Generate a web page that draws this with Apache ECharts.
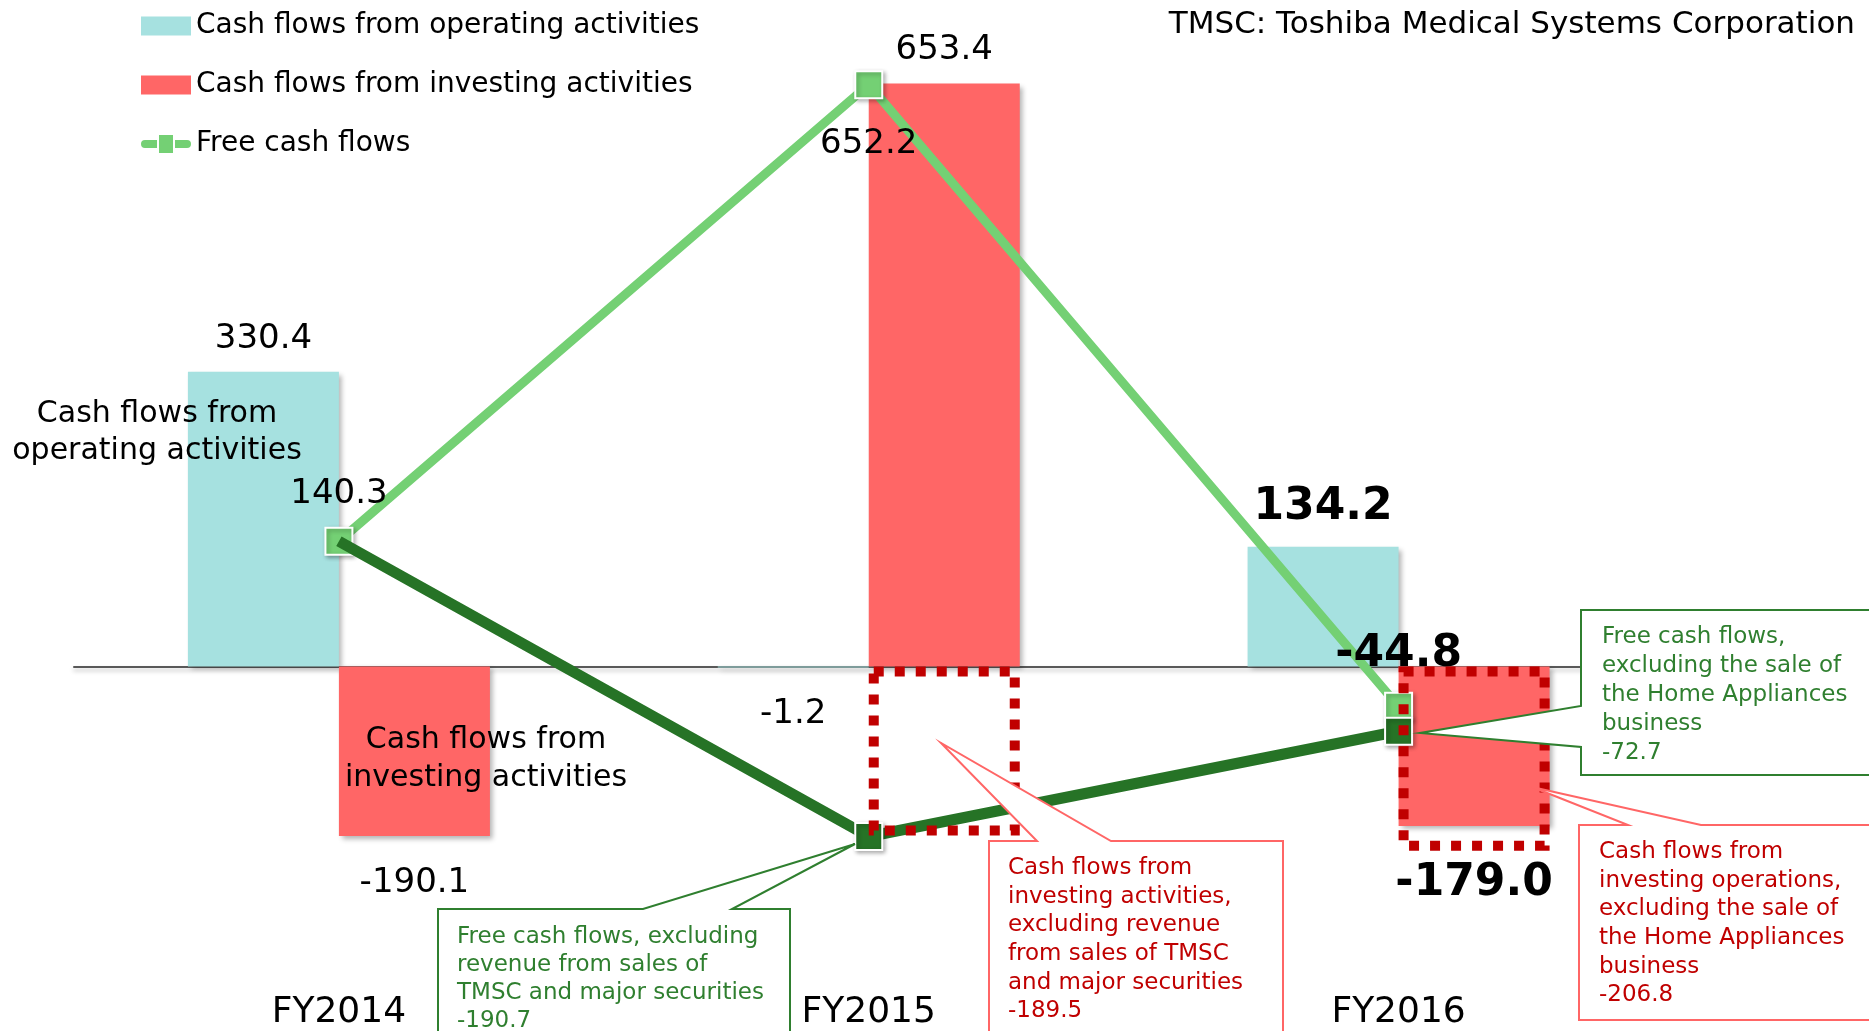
<!DOCTYPE html>
<html>
<head>
<meta charset="utf-8" />
<title>Cash flows</title>
<script src="https://cdn.jsdelivr.net/npm/echarts@6.0.0/dist/echarts.min.js"></script>
<style>
  html, body { margin: 0; padding: 0; background: #fff; }
  #chart { width: 1869px; height: 1031px; }
</style>
</head>
<body>
<div id="chart"></div>
<script>
  // values (billion yen)
  const years = ['FY2014', 'FY2015', 'FY2016'];
  const operating = [330.4, -1.2, 134.2];
  const investing = [-190.1, 653.4, -179.0];
  const freeCash = [140.3, 652.2, -44.8];
  const freeCashExcl = [140.3, -190.7, -72.7];
  const investingExcl = [null, -189.5, -206.8];

  const font = '"DejaVu Sans", Verdana, sans-serif';
  const cyan = '#A6E1E0', red = '#FF6666', lightGreen = '#74D074',
        darkGreen = '#267326', darkRed = '#C00000', noteGreen = '#2F7F2F';

  function lbl(pos, dist, bold) {
    return {
      show: true, position: pos, distance: dist,
      fontFamily: font, fontSize: bold ? 44 : 34,
      fontWeight: bold ? 'bold' : 'normal', color: '#000',
      formatter: p => Number(p.value).toFixed(1)
    };
  }

  const barShadow = {
    shadowBlur: 5, shadowOffsetX: 3, shadowOffsetY: 3,
    shadowColor: 'rgba(0,0,0,0.3)'
  };

  const opLabels = [lbl('top', 16), lbl('bottom', 30), lbl('top', 17, true)];
  const invLabels = [lbl('bottom', 30), lbl('top', 16), lbl('bottom', 35, true)];
  const fcfLabels = [lbl('top', 16), lbl('bottom', 28), lbl('top', 15, true)];

  // legend icon: thick line with round ends and a square marker
  const lineIcon = 'path://M4,5 H16 V13 H4 A4,4 0 0 1 4,5 Z M18,0 H32 V18 H18 Z M34,5 H46 A4,4 0 0 1 46,13 H34 Z';

  function note(points, color, textColor, tx, ty, lh, text) {
    return [
      {
        type: 'polygon', z: 50,
        shape: { points: points },
        style: { fill: '#fff', stroke: color, lineWidth: 2 }
      },
      {
        type: 'text', z: 51, x: tx, y: ty,
        style: {
          text: text, fill: textColor, fontFamily: font, fontSize: 23,
          lineHeight: lh, align: 'left', verticalAlign: 'top'
        }
      }
    ];
  }

  const chart = echarts.init(document.getElementById('chart'));

  chart.setOption({
    animation: false,
    backgroundColor: '#fff',
    title: {
      text: 'TMSC: Toshiba Medical Systems Corporation',
      right: 9, top: 4,
      textStyle: { fontFamily: font, fontSize: 31, fontWeight: 'normal', color: '#000' }
    },
    legend: {
      orient: 'vertical', left: 136, top: 4,
      itemWidth: 50, itemHeight: 19, itemGap: 25,
      textStyle: { fontFamily: font, fontSize: 28, color: '#000', lineHeight: 34 },
      data: [
        { name: 'Cash flows from operating activities', icon: 'rect' },
        { name: 'Cash flows from investing activities', icon: 'rect' },
        { name: 'Free cash flows', icon: lineIcon, itemStyle: { borderWidth: 0, shadowBlur: 0 } }
      ]
    },
    grid: { left: 74, right: 205.5, top: 42, bottom: 96 },
    xAxis: [
      {
        type: 'category', data: years,
        axisLine: { show: true, onZero: true, lineStyle: { color: '#595959', width: 2,
          shadowBlur: 4, shadowOffsetY: 3, shadowColor: 'rgba(0,0,0,0.25)' } },
        axisTick: { show: false }, axisLabel: { show: false }
      },
      {
        type: 'category', data: years, position: 'bottom',
        axisLine: { show: false, onZero: false }, axisTick: { show: false },
        axisLabel: { margin: 61, fontFamily: font, fontSize: 36, color: '#000' }
      }
    ],
    yAxis: {
      type: 'value', min: -300, max: 700, show: false,
      splitLine: { show: false }
    },
    series: [
      {
        name: 'Cash flows from operating activities', type: 'bar',
        barWidth: 151, barGap: '0%',
        itemStyle: Object.assign({ color: cyan }, barShadow),
        data: operating.map((v, i) => ({ value: v, label: opLabels[i] }))
      },
      {
        name: 'Cash flows from investing activities', type: 'bar',
        barWidth: 151, barGap: '0%',
        itemStyle: Object.assign({ color: red }, barShadow),
        data: investing.map((v, i) => ({ value: v, label: invLabels[i] }))
      },
      {
        name: 'Free cash flows', type: 'line', z: 3,
        symbol: 'rect', symbolSize: 27,
        lineStyle: { color: lightGreen, width: 9 },
        itemStyle: { color: lightGreen, borderColor: '#fff', borderWidth: 2,
          shadowBlur: 4, shadowOffsetX: 2, shadowOffsetY: 2, shadowColor: 'rgba(0,0,0,0.3)' },
        data: freeCash.map((v, i) => ({ value: v, label: fcfLabels[i] }))
      },
      {
        name: 'Free cash flows (excluding)', type: 'line', z: 4,
        symbol: 'rect', symbolSize: 27,
        lineStyle: { color: darkGreen, width: 11 },
        itemStyle: { color: darkGreen, borderColor: '#fff', borderWidth: 2,
          shadowBlur: 4, shadowOffsetX: 2, shadowOffsetY: 2, shadowColor: 'rgba(0,0,0,0.3)' },
        data: freeCashExcl.map((v, i) => i === 0 ? { value: v, symbol: 'none' } : v)
      },
      {
        // empty slot so the dotted outline lines up with the investing bars
        name: 'slot', type: 'bar', xAxisIndex: 1,
        barWidth: 151, barGap: '0%', silent: true,
        data: [null, null, null]
      },
      {
        name: 'Investing excluding', type: 'bar', xAxisIndex: 1, z: 6,
        barWidth: 151, barGap: '0%', silent: true,
        itemStyle: { color: 'rgba(0,0,0,0)', borderColor: darkRed, borderWidth: 10,
          borderType: [10, 11] },
        data: investingExcl
      }
    ],
    graphic: [
      {
        type: 'text', x: 157, y: 396, z: 40,
        style: { text: 'Cash flows from\noperating activities', fill: '#000',
          fontFamily: font, fontSize: 30, lineHeight: 37, align: 'center', verticalAlign: 'top' }
      },
      {
        type: 'text', x: 486, y: 721, z: 40,
        style: { text: 'Cash flows from\ninvesting activities', fill: '#000',
          fontFamily: font, fontSize: 30, lineHeight: 38, align: 'center', verticalAlign: 'top' }
      }
    ]
    .concat(note([[438, 909], [643, 909], [855, 844], [732, 909], [790, 909], [790, 1045], [438, 1045]],
      noteGreen, noteGreen, 457, 923, 28,
      'Free cash flows, excluding\nrevenue from sales of\nTMSC and major securities\n-190.7'))
    .concat(note([[989, 841], [1037, 841], [941, 743], [1111, 841], [1283, 841], [1283, 1045], [989, 1045]],
      red, darkRed, 1008, 854, 28.6,
      'Cash flows from\ninvesting activities,\nexcluding revenue\nfrom sales of TMSC\nand major securities\n-189.5'))
    .concat(note([[1581, 610], [1885, 610], [1885, 775], [1581, 775], [1581, 747], [1420, 733], [1581, 706]],
      noteGreen, noteGreen, 1602, 623, 28.8,
      'Free cash flows,\nexcluding the sale of\nthe Home Appliances\nbusiness\n-72.7'))
    .concat(note([[1579, 825], [1628, 825], [1532, 787], [1701, 825], [1885, 825], [1885, 1020], [1579, 1020]],
      red, darkRed, 1599, 838, 28.6,
      'Cash flows from\ninvesting operations,\nexcluding the sale of\nthe Home Appliances\nbusiness\n-206.8'))
  });
</script>
</body>
</html>
